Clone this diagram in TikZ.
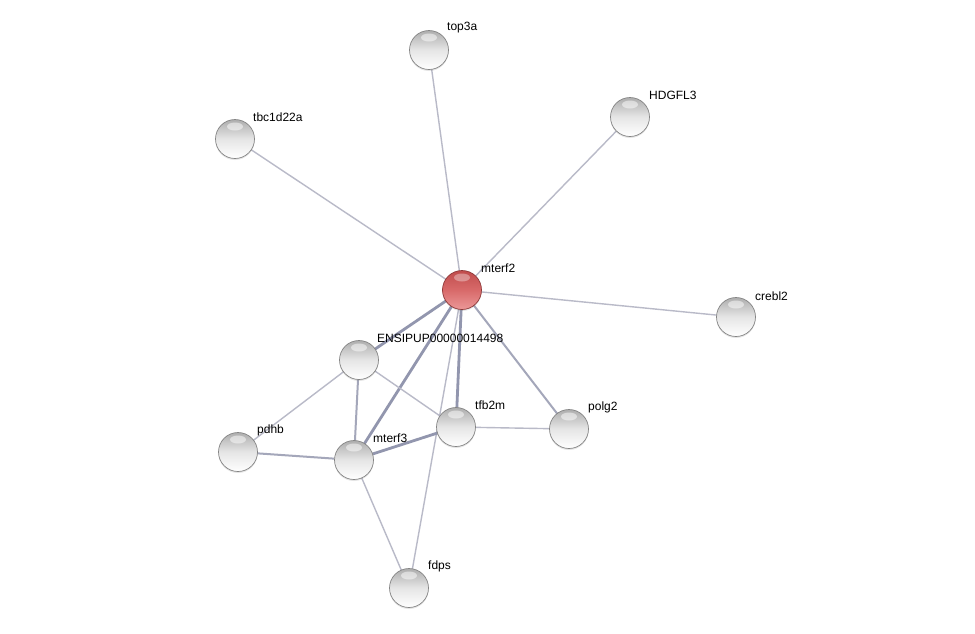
\documentclass[tikz,border=0pt]{standalone}
\usepackage{fontspec}
\setmainfont{Liberation Sans}
\usetikzlibrary{shadows}
\definecolor{thinedge}{HTML}{B9BAC8}
\definecolor{midedge}{HTML}{A4A7BA}
\definecolor{thickedge}{HTML}{9296AE}
\definecolor{ballrim}{HTML}{858585}
\definecolor{redrim}{HTML}{8E3A3A}
\definecolor{redtop}{HTML}{C04C4C}
\definecolor{redmid}{HTML}{D86A6A}
\definecolor{redbot}{HTML}{EC9898}
\tikzset{
  ballnode/.style={circle, minimum size=39pt, inner sep=0pt, draw=ballrim, line width=0.7pt,
    top color=black!32, bottom color=white, middle color=black!10,
    drop shadow={opacity=0.2, shadow xshift=0pt, shadow yshift=-1.5pt},
    path picture={\fill[white,opacity=0.5] ([yshift=-7pt]path picture bounding box.north) ellipse (8pt and 4pt);}},
  redball/.style={ballnode, draw=redrim, top color=redtop, bottom color=redbot, middle color=redmid,
    path picture={\fill[white,opacity=0.35] ([yshift=-7pt]path picture bounding box.north) ellipse (8pt and 4pt);}},
  lbl/.style={anchor=west, inner sep=0pt, font=\fontsize{12}{14}\selectfont},
  e1/.style={draw=thinedge, line width=1.4pt},
  e2/.style={draw=midedge, line width=2pt},
  e3/.style={draw=thickedge, line width=2.8pt},
}
\begin{document}
\begin{tikzpicture}[x=1pt,y=-1pt]
\useasboundingbox (0,0) rectangle (975,633);
\fill[white] (0,0) rectangle (975,633);
% node centres
\coordinate (top3a) at (429,50);
\coordinate (hdgfl3) at (630,117);
\coordinate (tbc) at (235,139);
\coordinate (mterf2) at (462,290);
\coordinate (crebl2) at (736,317);
\coordinate (ensi) at (359,360);
\coordinate (tfb2m) at (456,427);
\coordinate (polg2) at (569,429);
\coordinate (pdhb) at (238,452);
\coordinate (mterf3) at (354,460);
\coordinate (fdps) at (409,588);
% edges
\draw[e1] (mterf2) -- (top3a);
\draw[e1] (mterf2) -- (hdgfl3);
\draw[e1] (mterf2) -- (tbc);
\draw[e1] (mterf2) -- (crebl2);
\draw[e1] (mterf2) -- (fdps);
\draw[e2] (mterf2) -- (polg2);
\draw[e3] (mterf2) -- (ensi);
\draw[e3] (mterf2) -- (mterf3);
\draw[e3] (mterf2) -- (tfb2m);
\draw[e1] (ensi) -- (pdhb);
\draw[e2] (ensi) -- (mterf3);
\draw[e1] (ensi) -- (tfb2m);
\draw[e3] (tfb2m) -- (mterf3);
\draw[e1] (tfb2m) -- (polg2);
\draw[e2] (pdhb) -- (mterf3);
\draw[e1] (mterf3) -- (fdps);
% balls
\node[ballnode] (btop3a) at (top3a) {};
\node[ballnode] (bhdgfl3) at (hdgfl3) {};
\node[ballnode] (btbc) at (tbc) {};
\node[redball] (bmterf2) at (mterf2) {};
\node[ballnode] (bcrebl2) at (crebl2) {};
\node[ballnode] (bensi) at (ensi) {};
\node[ballnode] (btfb2m) at (tfb2m) {};
\node[ballnode] (bpolg2) at (polg2) {};
\node[ballnode] (bpdhb) at (pdhb) {};
\node[ballnode] (bmterf3) at (mterf3) {};
\node[ballnode] (bfdps) at (fdps) {};
% labels
\node[lbl] (ltop3a) at (447,28) {top3a};
\node[lbl] (lhdgfl3) at (649,95) {HDGFL3};
\node[lbl] (ltbc) at (253,117) {tbc1d22a};
\node[lbl] (lmterf2) at (481,268) {mterf2};
\node[lbl] (lcrebl2) at (755,296) {crebl2};
\node[lbl] (lensi) at (377,338) {ENSIPUP00000014498};
\node[lbl] (ltfb2m) at (475,405) {tfb2m};
\node[lbl] (lpolg2) at (588,407) {polg2};
\node[lbl] (lpdhb) at (257,430) {pdhb};
\node[lbl] (lmterf3) at (373,438) {mterf3};
\node[lbl] (lfdps) at (428,566) {fdps};
\end{tikzpicture}
\end{document}
